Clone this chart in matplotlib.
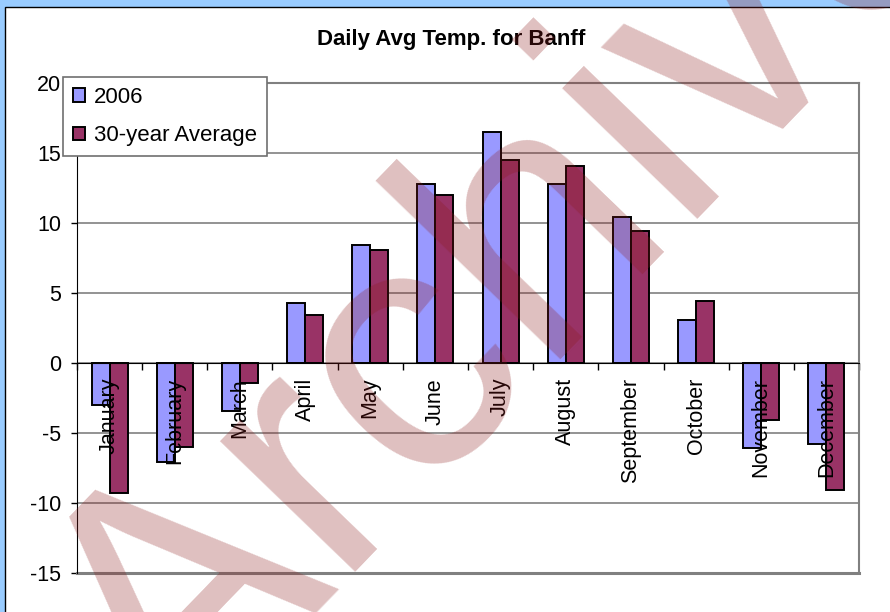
import matplotlib
matplotlib.use("Agg")
import matplotlib.pyplot as plt
import matplotlib.transforms as mtransforms
from matplotlib.patches import Rectangle, Patch
import numpy as np

months = ['January', 'February', 'March', 'April', 'May', 'June', 'July',
          'August', 'September', 'October', 'November', 'December']
temp_2006 = [-3.0, -7.1, -3.4, 4.3, 8.4, 12.8, 16.5, 12.8, 10.4, 3.1, -6.1, -5.8]
temp_30yr = [-9.3, -6.0, -1.4, 3.4, 8.1, 12.0, 14.5, 14.1, 9.4, 4.4, -4.1, -9.1]
series_names = ['2006', '30-year Average']
y_ticks = [-15, -10, -5, 0, 5, 10, 15, 20]
title = 'Daily Avg Temp. for Banff'

W, H, DPI = 890, 612, 100
plt.rcParams['font.family'] = ['Liberation Sans', 'DejaVu Sans']

fig = plt.figure(figsize=(W / DPI, H / DPI), dpi=DPI)
fig.patch.set_facecolor('#99ccff')

# chart area (white with black top/left border)
top = 1 - 6.5 / H
fig.patches.append(Rectangle((4.5 / W, -0.1), 2, top + 0.1, transform=fig.transFigure,
                             facecolor='white', edgecolor='black', lw=1.0, zorder=-10))

ax = fig.add_axes([77 / W, (H - 573) / H, 782 / W, 490 / H])
ax.set_facecolor('white')

x = np.arange(len(months))
bw = 0.276
c1, c2 = '#9999ff', '#993366'
ax.bar(x - bw / 2, temp_2006, bw, color=c1, edgecolor='black', lw=1.4, zorder=3)
ax.bar(x + bw / 2, temp_30yr, bw, color=c2, edgecolor='black', lw=1.4, zorder=3)

ax.set_xlim(-0.5, len(months) - 0.5)
ax.set_ylim(-15, 20)
ax.set_yticks(y_ticks)
ax.set_yticklabels([str(v) for v in y_ticks])
ax.yaxis.grid(True, color='#808080', lw=1.2, zorder=1)
ax.set_axisbelow(True)
ax.tick_params(axis='y', direction='out', length=4.5, width=1, color='black',
               labelsize=15.5, pad=7)

# x axis at zero with boundary ticks
ax.spines['bottom'].set_position(('data', 0))
ax.spines['bottom'].set_color('black')
ax.spines['bottom'].set_zorder(4)
ax.set_xticks(np.arange(len(months) + 1) - 0.5)
ax.set_xticklabels([])
ax.tick_params(axis='x', direction='out', length=5, width=1, color='black')
ax.spines['left'].set_color('black')
for s in ['top', 'right']:
    ax.spines[s].set_color('#808080')
    ax.spines[s].set_linewidth(1.5)
ax.axhline(-15, color='#808080', lw=2.2, zorder=2, clip_on=False)

offs = mtransforms.offset_copy(ax.transData, fig=fig, x=0, y=-15, units='dots')
for i, m in enumerate(months):
    ax.text(i, 0, m, rotation=90, ha='center', va='top', fontsize=15.5,
            transform=offs, zorder=5)

fig.text(451 / W, 1 - 40 / H, title, ha='center', va='center', fontsize=16,
         fontweight='bold')

handles = [Patch(facecolor=c1, edgecolor='black', lw=1.4),
           Patch(facecolor=c2, edgecolor='black', lw=1.4)]
leg = ax.legend(handles, series_names, loc='upper left',
                bbox_to_anchor=(63 / W, 1 - 77 / H), bbox_transform=fig.transFigure,
                fontsize=16, handlelength=0.55, handleheight=0.55, handletextpad=0.4,
                borderpad=0.45, labelspacing=0.78, borderaxespad=0, frameon=True,
                fancybox=False, edgecolor='#707070', framealpha=1)
leg.get_frame().set_linewidth(1.2)
leg.set_zorder(6)

# watermark
fig.text(585 / W, 1 - 333 / H, 'Archive', rotation=46, rotation_mode='anchor',
         ha='center', va='baseline', fontsize=255, color='#8b1a1a', alpha=0.28,
         zorder=20)

fig.savefig('out.png', dpi=DPI, facecolor=fig.get_facecolor())
